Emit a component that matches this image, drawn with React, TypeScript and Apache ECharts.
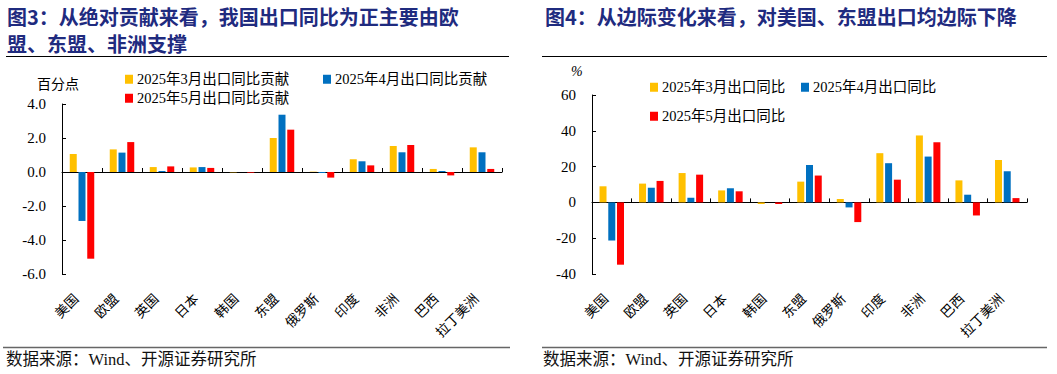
import React, { useEffect, useRef } from "react";
import * as echarts from "echarts";

const categories = ["美国", "欧盟", "英国", "日本", "韩国", "东盟", "俄罗斯", "印度", "非洲", "巴西", "拉丁美洲"];

const contribNames = ["2025年3月出口同比贡献", "2025年4月出口同比贡献", "2025年5月出口同比贡献"];
const contribMar = [1.06, 1.33, 0.29, 0.27, -0.02, 2.0, 0.02, 0.75, 1.53, 0.18, 1.45];
const contribApr = [-2.88, 1.14, 0.06, 0.29, 0.0, 3.37, -0.06, 0.63, 1.16, 0.06, 1.16];
const contribMay = [-5.1, 1.76, 0.33, 0.24, -0.04, 2.49, -0.33, 0.39, 1.59, -0.2, 0.18];

const yoyNames = ["2025年3月出口同比", "2025年4月出口同比", "2025年5月出口同比"];
const yoyMar = [9.0, 10.5, 16.4, 6.7, -0.9, 11.6, 1.9, 27.5, 37.4, 12.3, 23.7];
const yoyApr = [-21.3, 8.2, 2.6, 7.9, 0.0, 20.9, -2.8, 21.9, 25.6, 4.3, 17.4];
const yoyMay = [-34.8, 12.0, 15.5, 6.2, -0.9, 15.0, -11.0, 12.7, 33.6, -7.3, 2.4];

const leftTicks = { min: -6, max: 4, interval: 2 };
const rightTicks = { min: -40, max: 60, interval: 20 };

const colors = ["#FFC000", "#0070C0", "#FF0000"];

const titleLeft1 = "图3：从绝对贡献来看，我国出口同比为正主要由欧";
const titleLeft2 = "盟、东盟、非洲支撑";
const titleRight = "图4：从边际变化来看，对美国、东盟出口均边际下降";
const sourceText = "数据来源：Wind、开源证券研究所";
const leftUnit = "百分点";
const rightUnit = "%";

const FONT = "'Liberation Serif', 'Times New Roman', 'Noto Sans CJK SC', serif";
const TITLE_FONT = "'Noto Sans CJK SC', sans-serif";
const TITLE_COLOR = "#1f2b7f";

export default function App() {
  const ref = useRef<HTMLDivElement>(null);

  useEffect(() => {
    if (!ref.current) return;
    const chart = echarts.init(ref.current, undefined, { renderer: "svg" });

    const grids = [
      { left: 62, top: 104, width: 440, height: 170 },
      { left: 592, top: 95, width: 435, height: 179 },
    ];

    const mkLabelAxis = (gi: number) => ({
      type: "category",
      gridIndex: gi,
      data: categories,
      position: "bottom",
      axisLine: { show: false, onZero: false },
      axisTick: { show: false },
      axisLabel: {
        interval: 0,
        rotate: 45,
        margin: 17,
        fontSize: 13.5,
        color: "#000",
        fontFamily: FONT,
        padding: [0, 8, 0, 0],
      },
      splitLine: { show: false },
    });
    const mkZeroAxis = (gi: number) => ({
      type: "category",
      gridIndex: gi,
      data: categories,
      position: "top",
      axisLine: { show: true, onZero: true, lineStyle: { color: "#000", width: 1 } },
      axisTick: { show: true, inside: false, length: 4, interval: 0, lineStyle: { color: "#000" } },
      axisLabel: { show: false },
      splitLine: { show: false },
    });
    const mkY = (gi: number, t: { min: number; max: number; interval: number }, dec: number) => ({
      type: "value",
      gridIndex: gi,
      min: t.min,
      max: t.max,
      interval: t.interval,
      axisLine: { show: true, onZero: false, lineStyle: { color: "#000", width: 1 } },
      axisTick: { show: true, inside: true, length: 4, lineStyle: { color: "#000" } },
      axisLabel: {
        fontSize: 15,
        color: "#000",
        margin: 16,
        fontFamily: FONT,
        formatter: (v: number) => v.toFixed(dec),
      },
      splitLine: { show: false },
    });

    const mkSeries = (name: string, data: number[], ci: number, idx: number) => ({
      type: "bar",
      name,
      data,
      xAxisIndex: idx * 2,
      yAxisIndex: idx,
      barWidth: 7,
      barGap: "25%",
      itemStyle: { color: colors[ci] },
    });

    const legendItem = (name: string, left: number, top: number) => ({
      data: [name],
      left,
      top,
      icon: "rect",
      itemWidth: 8,
      itemHeight: 9,
      itemGap: 4,
      textStyle: { fontSize: 14.5, color: "#000", fontFamily: FONT, padding: [0, 0, 0, -1] },
      selectedMode: false,
    });

    chart.setOption({
      animation: false,
      backgroundColor: "#fff",
      grid: grids.map((g) => ({ ...g, containLabel: false })),
      xAxis: [mkLabelAxis(0), mkZeroAxis(0), mkLabelAxis(1), mkZeroAxis(1)],
      yAxis: [mkY(0, leftTicks, 1), mkY(1, rightTicks, 0)],
      legend: [
        legendItem(contribNames[0], 120, 67),
        legendItem(contribNames[1], 318, 67),
        legendItem(contribNames[2], 120, 86),
        legendItem(yoyNames[0], 645, 75),
        legendItem(yoyNames[1], 796, 75),
        legendItem(yoyNames[2], 645, 104),
      ],
      series: [
        mkSeries(contribNames[0], contribMar, 0, 0),
        mkSeries(contribNames[1], contribApr, 1, 0),
        mkSeries(contribNames[2], contribMay, 2, 0),
        mkSeries(yoyNames[0], yoyMar, 0, 1),
        mkSeries(yoyNames[1], yoyApr, 1, 1),
        mkSeries(yoyNames[2], yoyMay, 2, 1),
      ],
      graphic: [
        {
          type: "text",
          left: 7,
          top: 6,
          style: { text: titleLeft1, fontSize: 20, fontWeight: "bold", fill: TITLE_COLOR, fontFamily: TITLE_FONT },
        },
        {
          type: "text",
          left: 7,
          top: 33,
          style: { text: titleLeft2, fontSize: 20, fontWeight: "bold", fill: TITLE_COLOR, fontFamily: TITLE_FONT },
        },
        {
          type: "text",
          left: 545,
          top: 6,
          style: { text: titleRight, fontSize: 20, fontWeight: "bold", fill: TITLE_COLOR, fontFamily: TITLE_FONT },
        },
        { type: "line", shape: { x1: 6, y1: 56.5, x2: 509, y2: 56.5 }, style: { stroke: "#000", lineWidth: 1 } },
        { type: "line", shape: { x1: 542, y1: 56.5, x2: 1047, y2: 56.5 }, style: { stroke: "#000", lineWidth: 1 } },
        { type: "line", shape: { x1: 3, y1: 347.5, x2: 510, y2: 347.5 }, style: { stroke: "#666", lineWidth: 1.5 } },
        { type: "line", shape: { x1: 542, y1: 347.5, x2: 1047, y2: 347.5 }, style: { stroke: "#666", lineWidth: 1.5 } },
        {
          type: "text",
          left: 6,
          top: 351,
          style: { text: sourceText, fontSize: 16.5, fill: "#111", fontFamily: FONT },
        },
        {
          type: "text",
          left: 543,
          top: 351,
          style: { text: sourceText, fontSize: 16.5, fill: "#111", fontFamily: FONT },
        },
        {
          type: "text",
          left: 37,
          top: 77,
          style: { text: leftUnit, fontSize: 14, fill: "#000", fontFamily: FONT },
        },
        {
          type: "text",
          left: 571,
          top: 64,
          style: { text: rightUnit, fontSize: 14, fill: "#000", fontFamily: FONT, fontStyle: "italic" },
        },
      ],
    });

    return () => chart.dispose();
  }, []);

  return (
    <div
      ref={ref}
      style={{ position: "fixed", left: 0, top: 0, width: 1057, height: 374, background: "#fff" }}
    />
  );
}
